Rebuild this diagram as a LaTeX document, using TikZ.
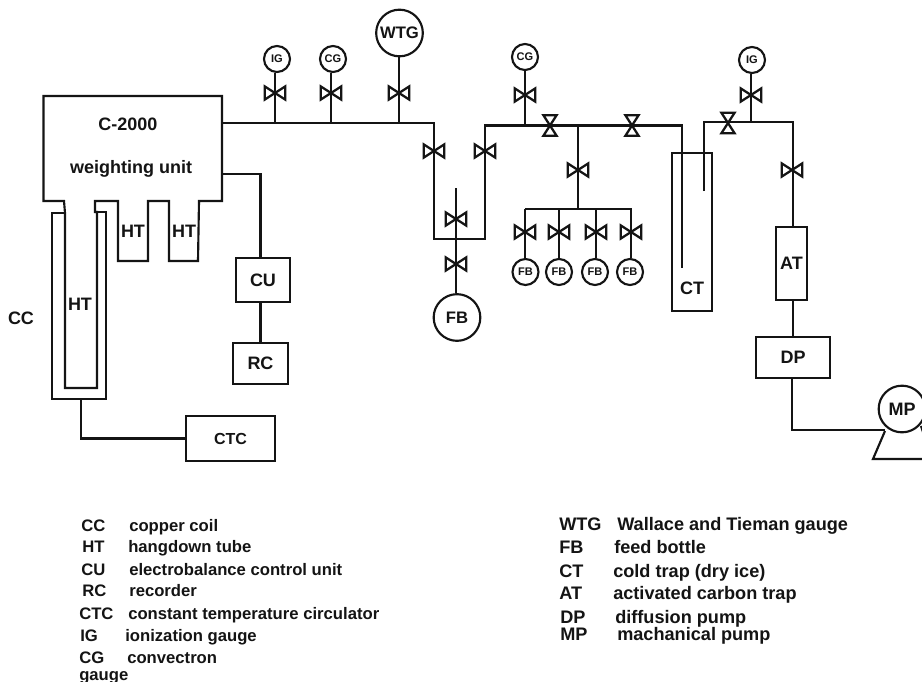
\documentclass[tikz,border=0pt]{standalone}
\usepackage{fontspec}
\setmainfont{Liberation Sans}
\usepackage{xcolor}
\usetikzlibrary{calc}
\definecolor{inkblack}{HTML}{141414}

\begin{document}
\begin{tikzpicture}[x=0.75pt,y=-0.75pt,
		pipe/.style={draw=inkblack,line width=1.7pt},
		wall/.style={draw=inkblack,line width=1.6pt,line join=miter},
		unitbox/.style={draw=inkblack,line width=1.6pt,inner sep=0pt,font=\bfseries\fontsize{13.5}{15}\selectfont,text=inkblack},
		gauge/.style={circle,draw=inkblack,line width=1.6pt,inner sep=0pt,minimum size=19.5pt,font=\bfseries\fontsize{8.3}{10}\selectfont,text=inkblack},
		biggauge/.style={gauge,minimum size=35pt,font=\bfseries\fontsize{12.5}{14}\selectfont},
		valve/.style={rectangle,inner sep=0pt,minimum width=9.5pt,minimum height=15pt},
		tag/.style={font=\bfseries\fontsize{13.5}{15}\selectfont,text=inkblack,inner sep=0pt},
		lg/.style={anchor=west,inner sep=0pt,yshift=-1pt,text height=9pt,text depth=3pt,font=\bfseries\fontsize{12.5}{14}\selectfont,text=inkblack},
		lgr/.style={lg,font=\bfseries\fontsize{13.6}{15}\selectfont}
		]
		\clip (0,0) rectangle (922,682);
		\fill[white] (0,0) rectangle (922,682);

		% weighting unit with its hangdown tubes
		\draw[wall] (43.5,96) -- (222,96) -- (222,201) -- (199,201) -- (198,261) -- (169,261) -- (169,201)
			-- (148,201) -- (148,261) -- (118,261) -- (118,201) -- (95,201) -- (95,212) -- (97,212)
			-- (97,388) -- (65,388) -- (65,213) -- (64,201) -- (43.5,201) -- cycle;
		\draw[wall] (65,213) -- (52,213) -- (52,399) -- (106,399) -- (106,212) -- (97,212);
		\node[tag] (title) at (128,124) {C-2000};
		\node[tag] (unitname) at (131,169) {weighting unit};
		\node[tag] (ht1) at (133,231) {HT};
		\node[tag] (ht2) at (184,231) {HT};
		\node[tag] (ht3) at (80,304) {HT};
		\node[tag] (cc) at (21,318) {CC};

		% control side
		\coordinate (unitout) at (222,174);
		\coordinate (coilout) at (81,399);
		\node[unitbox,minimum width=40.5pt,minimum height=33pt] (cu) at (263,280) {CU};
		\node[unitbox,minimum width=41pt,minimum height=31pt] (rc) at (260.5,363.5) {RC};
		\node[unitbox,minimum width=66.5pt,minimum height=33.5pt,font=\bfseries\fontsize{12}{14}\selectfont] (ctc) at (230.5,438.5) {CTC};
		\draw[wall] (unitout) -| (cu.north -| rc.north);
		\draw[wall] (cu.south -| rc.south) -- (rc.north);
		\draw[wall] (coilout) |- (ctc.west);

		% gauges
		\node[gauge] (ig1) at (277,59) {IG};
		\node[gauge] (cg1) at (333,59) {CG};
		\node[biggauge] (wtg) at (399.5,33) {WTG};
		\node[gauge] (cg2) at (525,57) {CG};
		\node[gauge] (ig2) at (752,60) {IG};

		% feed bottles
		\node[biggauge] (fb0) at (457,317.5) {FB};
		\node[gauge] (fb1) at (525.5,272) {FB};
		\node[gauge] (fb2) at (559,272) {FB};
		\node[gauge] (fb3) at (595,272) {FB};
		\node[gauge] (fb4) at (630,272) {FB};

		% valves
		\node[valve,rotate=90] (vig1) at (275,93) {};
		\node[valve,rotate=90] (vcg1) at (331,93) {};
		\node[valve,rotate=90] (vwtg) at (399,93) {};
		\node[valve,rotate=90] (vcg2) at (525,95) {};
		\node[valve,rotate=90] (vig2) at (751,95) {};
		\node[valve,rotate=90] (vleft) at (434,151) {};
		\node[valve,rotate=90] (vright) at (485,151) {};
		\node[valve,rotate=90] (vmid) at (456,219) {};
		\node[valve,rotate=90] (vfb0) at (456,264) {};
		\node[valve,rotate=90] (vbranch) at (578,170) {};
		\node[valve,rotate=90] (vfb1) at (525,232) {};
		\node[valve,rotate=90] (vfb2) at (559,232) {};
		\node[valve,rotate=90] (vfb3) at (596,232) {};
		\node[valve,rotate=90] (vfb4) at (631,232) {};
		\node[valve,rotate=90] (vat) at (792,170) {};
		\node[valve] (vline1) at (550,125.5) {};
		\node[valve] (vline2) at (632,125.5) {};
		\node[valve] (vct) at (728,123) {};
		\foreach \v in {vig1,vcg1,vwtg,vcg2,vig2,vleft,vright,vmid,vfb0,vbranch,vfb1,vfb2,vfb3,vfb4,vat,vline1,vline2,vct}
			\draw[draw=inkblack,line width=1.7pt,line join=miter] (\v.north west) -- (\v.south east) -- (\v.south west) -- (\v.north east) -- cycle;

		% cold trap, carbon trap, pumps
		\node[unitbox,minimum width=30pt,minimum height=118.5pt] (ct) at (692,232) {};
		\node[tag] (ctname) at (692,288) {CT};
		\node[unitbox,line width=1.8pt,minimum width=23pt,minimum height=55pt] (at) at (791.5,263.5) {AT};
		\node[unitbox,minimum width=55.5pt,minimum height=31pt] (dp) at (793,357.5) {DP};
		\node[biggauge,font=\bfseries\fontsize{13.5}{15}\selectfont] (mp) at (902,409) {MP};
		\draw[wall] (885,431) -- (873,459) -- (922,459);
		\draw[wall] (921,426) -- (932,459);

		% main line
		\coordinate (mainstart) at (222,123);
		\coordinate (leftdown) at (434,123);
		\coordinate (uleft) at (434,239);
		\coordinate (uright) at (485,239);
		\coordinate (rightup) at (485,125.5);
		\coordinate (ctin) at (682,125.5);
		\coordinate (ctinend) at (682,268);
		\coordinate (ctout) at (704,191);
		\coordinate (ctoutup) at (704,122);
		\coordinate (atdown) at (793,122);
		\coordinate (midtop) at (456,188);
		\coordinate (branch) at (578,125);
		\coordinate (manifold) at (578,209);
		\coordinate (mfleft) at (525,209);
		\coordinate (mfright) at (632,209);
		\coordinate (pumpcorner) at (792,430);
		\draw[pipe] (mainstart) -- (leftdown) -- (uleft) -- (uright) -- (rightup) -- (ctin) -- (ctinend);
		\draw[pipe] (ctout) -- (ctoutup) -- (atdown) -- (at.north -| atdown);
		\draw[pipe] (midtop) -- (vmid.center) -- (vfb0.center) -- (fb0.north -| vfb0);
		\draw[pipe] (branch) -- (vbranch.center) -- (manifold);
		\draw[pipe] (mfleft) -- (mfright);
		\draw[pipe] (mfleft) -- (fb1.north -| mfleft);
		\draw[pipe] (vfb2.center |- mfleft) -- (fb2.north);
		\draw[pipe] (vfb3.center |- mfleft) -- (fb3.north -| vfb3);
		\draw[pipe] (vfb4.center |- mfleft) -- (fb4.north -| vfb4);
		\draw[pipe] (ig1.south -| vig1) -- (vig1.center |- mainstart);
		\draw[pipe] (cg1.south -| vcg1) -- (vcg1.center |- mainstart);
		\draw[pipe] (wtg.south -| vwtg) -- (vwtg.center |- mainstart);
		\draw[pipe] (cg2.south) -- (vcg2.center |- ctin);
		\draw[pipe] (ig2.south -| vig2) -- (vig2.center |- ctoutup);
		\draw[wall] (at.south -| dp.north) -- (dp.north);
		\draw[wall] (dp.south -| pumpcorner) -- (pumpcorner) -- (mp.south west |- pumpcorner);

		% key, left column
		\node[lg] (kcc) at (81,526) {CC};
		\node[lg] (tcc) at (129,526) {copper coil};
		\node[lg] (kht) at (82,547) {HT};
		\node[lg] (tht) at (128,547) {hangdown tube};
		\node[lg] (kcu) at (81,570) {CU};
		\node[lg] (tcu) at (129,570) {electrobalance control unit};
		\node[lg] (krc) at (82,591) {RC};
		\node[lg] (trc) at (129,591) {recorder};
		\node[lg] (kctc) at (79,614) {CTC};
		\node[lg] (tctc) at (128,614) {constant temperature circulator};
		\node[lg] (kig) at (80,636) {IG};
		\node[lg] (tig) at (125,636) {ionization gauge};
		\node[lg] (kcg) at (79,658) {CG};
		\node[lg] (tcg) at (127,658) {convectron};
		\node[lg] (tcg2) at (79,675) {gauge};

		% key, right column
		\node[lgr] (kwtg) at (559,525) {WTG};
		\node[lgr] (twtg) at (617,525) {Wallace and Tieman gauge};
		\node[lgr] (kfb) at (559,548) {FB};
		\node[lgr] (tfb) at (614,548) {feed bottle};
		\node[lgr] (kct) at (559,572) {CT};
		\node[lgr] (tct) at (613,572) {cold trap (dry ice)};
		\node[lgr] (kat) at (559,594) {AT};
		\node[lgr] (tat) at (613,594) {activated carbon trap};
		\node[lgr] (kdp) at (560,618) {DP};
		\node[lgr] (tdp) at (615,618) {diffusion pump};
		\node[lgr] (kmp) at (560,635) {MP};
		\node[lgr] (tmp) at (617,635) {machanical pump};
	\end{tikzpicture}
\end{document}
